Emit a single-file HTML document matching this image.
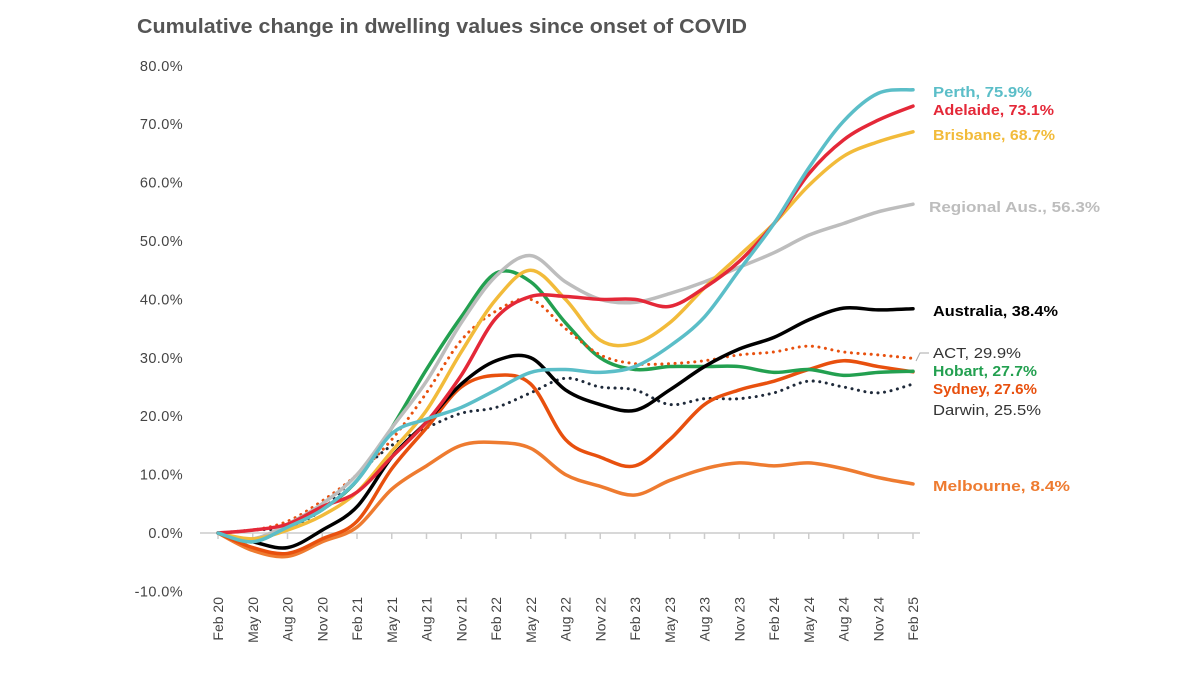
<!DOCTYPE html>
<html><head><meta charset="utf-8"><style>
body{margin:0;background:#fff;width:1200px;height:675px;overflow:hidden;font-family:"Liberation Sans",sans-serif}
</style></head><body>
<svg id="chart" width="1200" height="675" xmlns="http://www.w3.org/2000/svg">
<text x="137" y="33" font-size="20" font-weight="bold" fill="#555" textLength="610" lengthAdjust="spacingAndGlyphs">Cumulative change in dwelling values since onset of COVID</text>
<g id="axes"></g><g id="lines"></g><g id="labels"></g>
</svg>
<script>
const xLabels=["Feb 20","May 20","Aug 20","Nov 20","Feb 21","May 21","Aug 21","Nov 21","Feb 22","May 22","Aug 22","Nov 22","Feb 23","May 23","Aug 23","Nov 23","Feb 24","May 24","Aug 24","Nov 24","Feb 25"];
const yTicks=[-10,0,10,20,30,40,50,60,70,80];
const perth=[0,-1.5,1,4,9,17,19.5,21.5,24.5,27.5,28,27.5,28.5,32,37,45,53,62.5,70.5,75.3,75.9];
const adelaide=[0,0.5,1.5,4.5,7,13,19,27,36.8,40.5,40.5,40,40,38.8,42,46.5,53,61.5,67.3,70.7,73.1];
const brisbane=[0,-1,0.5,3,7,14,21,31,40,45,40,33,32.5,36,42,47.5,53,59.5,64.5,67,68.7];
const regional=[0,-1,1.5,5,10,18,26,36,44,47.5,43,40,39.5,41,43,45.5,48,51,53,55,56.3];
const australia=[0,-1.5,-2.5,0.5,4.5,13,19,25.5,29.5,30,24.5,22,21,24.5,28.5,31.5,33.5,36.5,38.5,38.2,38.4];
const act=[0,0.5,2,5.5,10,16,24,33,38,40,35,30.5,29,29,29.5,30.5,31,32,31,30.5,29.9];
const hobart=[0,-1.5,1,4,9,18,28,37,44.5,43,36,30,28,28.5,28.5,28.5,27.5,28,27,27.5,27.7];
const sydney=[0,-2.5,-3.5,-1,2,11,18,25,27,25.5,16,13,11.5,16,22,24.5,26,28,29.5,28.5,27.6];
const darwin=[0,0.5,1,4,10,15,18,20.5,21.5,24,26.5,25,24.5,22,23,23,24,26,25,24,25.5];
const melbourne=[0,-3,-4,-1.5,1,7.5,11.5,15,15.5,14.5,10,8,6.5,9,11,12,11.5,12,11,9.5,8.4];

const X=i=>218+i*(913-218)/(xLabels.length-1);
const Y=v=>533-v*5.84;
const ns="http://www.w3.org/2000/svg";
function mk(t,parent,attrs){const e=document.createElementNS(ns,t);for(const k in attrs)e.setAttribute(k,attrs[k]);parent.appendChild(e);return e;}
const axes=document.getElementById('axes'),lines=document.getElementById('lines'),labels=document.getElementById('labels');
yTicks.forEach(v=>{const t=mk('text',axes,{x:183,y:Y(v)+5,'text-anchor':'end','font-size':14.5,fill:'#444','letter-spacing':'0.4'});t.textContent=v.toFixed(1)+'%';

});
const ax=mk('line',axes,{x1:200,x2:920,y1:Y(0),y2:Y(0),stroke:'#ccc','stroke-width':1.5});


xLabels.forEach((l,i)=>{const x=X(i);
const tk=mk('line',axes,{x1:x,x2:x,y1:Y(0),y2:Y(0)+6,stroke:'#ccc','stroke-width':1.5});


const t=mk('text',axes,{transform:`translate(${x+5},597) rotate(-90)`,'text-anchor':'end','font-size':14,fill:'#444'});t.textContent=l;

});
function path(d){const p=d.map((v,i)=>[X(i),Y(v)]);let s=`M${p[0][0]},${p[0][1]}`;
for(let i=0;i<p.length-1;i++){const p0=p[Math.max(0,i-1)],p1=p[i],p2=p[i+1],p3=p[Math.min(p.length-1,i+2)];
s+=` C${p1[0]+(p2[0]-p0[0])/6},${p1[1]+(p2[1]-p0[1])/6} ${p2[0]-(p3[0]-p1[0])/6},${p2[1]-(p3[1]-p1[1])/6} ${p2[0]},${p2[1]}`;}return s;}
const series=[
['melbourne',melbourne,'#ee7b30',false],['darwin',darwin,'#1f2a3a',true],['sydney',sydney,'#e8500e',false],['hobart',hobart,'#23a050',false],['act',act,'#e8500e',true],['australia',australia,'#000',false],['regional',regional,'#bdbdbd',false],['brisbane',brisbane,'#f2bb3a',false],['adelaide',adelaide,'#e42838',false],['perth',perth,'#5bbec8',false]];
series.forEach(([n,d,c,dot])=>{const a={d:path(d),fill:'none',stroke:c,'stroke-width':dot?3:3.5,'stroke-linecap':'round','stroke-linejoin':'round'};
if(dot)a['stroke-dasharray']='0.1 6.5';
const e=mk('path',lines,a);

});
const labs=[['Perth, 75.9%',92,'#5bbec8',1,99],['Adelaide, 73.1%',110,'#e42838',1,121],['Brisbane, 68.7%',135,'#f2bb3a',1,122],['Regional Aus., 56.3%',207,'#bdbdbd',1,171],['Australia, 38.4%',311,'#000',1,125],['ACT, 29.9%',353,'#333',0,88],['Hobart, 27.7%',371,'#23a050',1,104],['Sydney, 27.6%',389,'#e8500e',1,104],['Darwin, 25.5%',410,'#333',0,108],['Melbourne, 8.4%',486,'#ee7b30',1,137]];
labs.forEach(([t,y,c,b,w],i)=>{const x=i==3?929:933;const e=mk('text',labels,{x:x,y:y+5,'font-size':14.5,fill:c,'font-weight':b?'bold':'normal',textLength:w,lengthAdjust:'spacingAndGlyphs'});e.textContent=t;

});
const ld=mk('path',labels,{d:'M916,361 L920,353 L929,353',fill:'none',stroke:'#aaa','stroke-width':1});


</script>
</body></html>
